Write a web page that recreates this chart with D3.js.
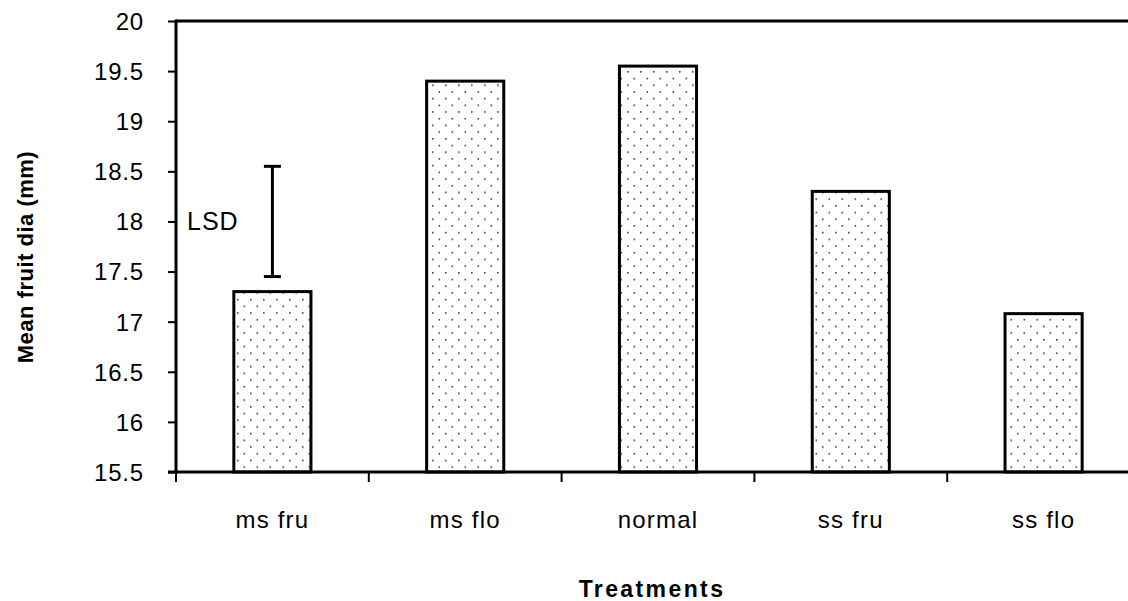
<!DOCTYPE html>
<html>
<head>
<meta charset="utf-8">
<script src="https://cdn.jsdelivr.net/npm/d3@7"></script>
<style>
  html, body { margin: 0; padding: 0; background: #fff; }
  svg { display: block; }
  text { font-family: "Liberation Sans", Arial, sans-serif; fill: #000; }
</style>
</head>
<body>
<script>
const categories = ["ms fru", "ms flo", "normal", "ss fru", "ss flo"];
const values = [17.3, 19.4, 19.55, 18.3, 17.08];
const yTicks = [15.5, 16, 16.5, 17, 17.5, 18, 18.5, 19, 19.5, 20];
const lsd = { category: "ms fru", low: 17.45, high: 18.55, label: "LSD" };
const yTitle = "Mean fruit dia (mm)";
const xTitle = "Treatments";

(function () {
const W = 1128, H = 601;
const mLeft = 176, mTop = 21, mBottom = 472;
const plotRight = 176 + 5 * 192.8;

const svg = d3.select("body").append("svg").attr("width", W).attr("height", H);

const defs = svg.append("defs");
const pat = defs.append("pattern").attr("id", "dots")
  .attr("patternUnits", "userSpaceOnUse")
  .attr("width", 13).attr("height", 13.4)
  .attr("x", 3).attr("y", 4);
pat.append("rect").attr("width", 13).attr("height", 13.4).attr("fill", "#fff");
pat.append("rect").attr("x", 0).attr("y", 0).attr("width", 1.6).attr("height", 1.6).attr("fill", "#444");
pat.append("rect").attr("x", 6.5).attr("y", 6.7).attr("width", 1.6).attr("height", 1.6).attr("fill", "#444");

const x = d3.scaleBand().domain(categories).range([mLeft, plotRight])
  .paddingInner(0.6).paddingOuter(0.3);
const y = d3.scaleLinear().domain([15.5, 20]).range([mBottom, mTop]);

// bars
svg.append("g").selectAll("rect").data(categories).join("rect")
  .attr("x", d => x(d))
  .attr("y", (d, i) => y(values[i]))
  .attr("width", x.bandwidth())
  .attr("height", (d, i) => y(15.5) - y(values[i]))
  .attr("fill", "url(#dots)")
  .attr("stroke", "#000").attr("stroke-width", 3);

// top frame line
svg.append("line").attr("x1", mLeft).attr("x2", W).attr("y1", mTop).attr("y2", mTop)
  .attr("stroke", "#000").attr("stroke-width", 3);

// y axis
const yAxis = svg.append("g").attr("transform", `translate(${mLeft},0)`)
  .call(d3.axisLeft(y).tickValues(yTicks).tickSize(8).tickPadding(24)
    .tickFormat(d => String(d)));
yAxis.select(".domain").remove();
yAxis.selectAll(".tick line").attr("stroke", "#000").attr("stroke-width", 2);
yAxis.selectAll(".tick text").style("font-size", "24px").style("letter-spacing", "0.8px")
  .attr("dy", "0.35em");
svg.append("line").attr("x1", mLeft).attr("x2", mLeft).attr("y1", mTop - 1.5).attr("y2", mBottom + 1.5)
  .attr("stroke", "#000").attr("stroke-width", 3);

// x axis
const bounds = d3.range(categories.length + 1).map(i => mLeft + i * x.step());
const xg = svg.append("g");
xg.selectAll("line.tk").data(bounds).join("line").attr("class", "tk")
  .attr("x1", d => d).attr("x2", d => d).attr("y1", mBottom).attr("y2", mBottom + 10)
  .attr("stroke", "#000").attr("stroke-width", 2);
xg.append("line").attr("x1", mLeft - 8).attr("x2", W).attr("y1", mBottom).attr("y2", mBottom)
  .attr("stroke", "#000").attr("stroke-width", 3);
xg.selectAll("text").data(categories).join("text")
  .attr("x", d => x(d) + x.bandwidth() / 2)
  .attr("y", 528)
  .attr("text-anchor", "middle")
  .style("font-size", "24px").style("letter-spacing", "1.2px")
  .text(d => d);

// LSD bar
const lx = x(lsd.category) + x.bandwidth() / 2;
const lg = svg.append("g").attr("stroke", "#000").attr("stroke-width", 3);
lg.append("line").attr("x1", lx).attr("x2", lx).attr("y1", y(lsd.high)).attr("y2", y(lsd.low));
lg.append("line").attr("x1", lx - 8.5).attr("x2", lx + 8.5).attr("y1", y(lsd.high)).attr("y2", y(lsd.high));
lg.append("line").attr("x1", lx - 8.5).attr("x2", lx + 8.5).attr("y1", y(lsd.low)).attr("y2", y(lsd.low));
svg.append("text").attr("x", 187).attr("y", y((lsd.high + lsd.low) / 2)).attr("dy", "0.36em")
  .style("font-size", "25px").style("letter-spacing", "1px").text(lsd.label);

// axis titles
svg.append("text").attr("transform", `translate(33,257) rotate(-90)`)
  .attr("text-anchor", "middle")
  .style("font-size", "22px").style("font-weight", "bold").style("letter-spacing", "0.5px")
  .text(yTitle);
svg.append("text").attr("x", 652).attr("y", 597)
  .attr("text-anchor", "middle")
  .style("font-size", "23px").style("font-weight", "bold").style("letter-spacing", "2.4px")
  .text(xTitle);
})();
</script>
</body>
</html>
